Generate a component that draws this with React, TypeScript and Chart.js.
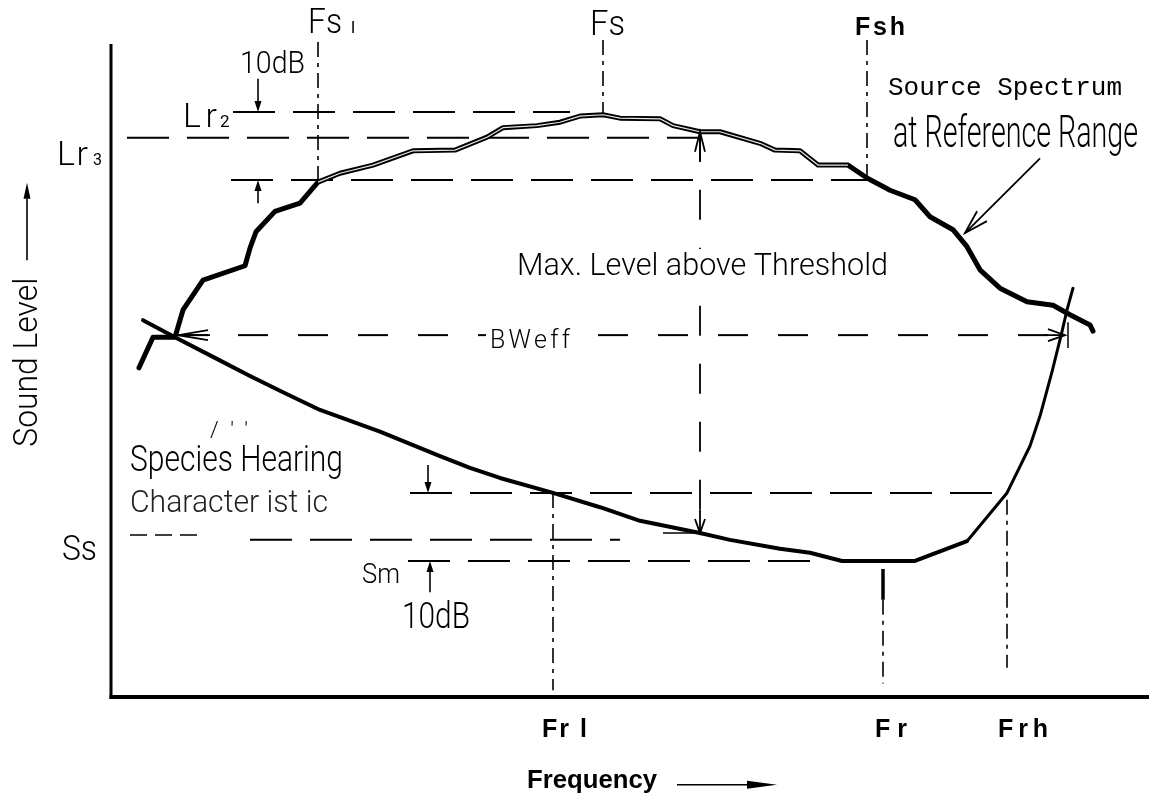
import React, { useEffect, useRef } from "react";
import { Chart, registerables } from "chart.js";

Chart.register(...registerables);

type Pt = { x: number; y: number };

// Frequency in arbitrary units along the bottom axis, sound level in dB.
const sourceSpectrum: Pt[] = [
  { x: 2.8, y: 48.4 }, { x: 4.2, y: 52.9 }, { x: 6.4, y: 52.9 }, { x: 7.2, y: 56.9 },
  { x: 9.2, y: 61.3 }, { x: 13.4, y: 63.4 }, { x: 13.9, y: 66.0 }, { x: 14.5, y: 68.4 },
  { x: 16.4, y: 71.4 }, { x: 18.9, y: 72.6 }, { x: 20.7, y: 75.7 }, { x: 22.9, y: 77.0 },
  { x: 26.2, y: 78.2 }, { x: 30.2, y: 80.3 }, { x: 34.4, y: 80.4 }, { x: 37.6, y: 82.3 },
  { x: 39.2, y: 83.7 }, { x: 42.6, y: 84.0 }, { x: 44.9, y: 84.5 }, { x: 46.9, y: 85.4 },
  { x: 49.2, y: 85.6 }, { x: 50.9, y: 85.1 }, { x: 54.9, y: 85.0 }, { x: 56.2, y: 84.0 },
  { x: 58.9, y: 83.1 }, { x: 60.9, y: 83.1 }, { x: 64.9, y: 81.4 }, { x: 66.4, y: 80.4 },
  { x: 68.9, y: 80.3 }, { x: 70.7, y: 78.2 }, { x: 73.7, y: 78.2 }, { x: 75.6, y: 76.3 },
  { x: 77.9, y: 74.5 }, { x: 80.4, y: 73.1 }, { x: 81.9, y: 70.6 }, { x: 84.2, y: 68.7 },
  { x: 85.6, y: 66.2 }, { x: 86.9, y: 62.8 }, { x: 88.9, y: 60.1 }, { x: 91.6, y: 58.1 },
  { x: 94.2, y: 57.6 }, { x: 95.9, y: 56.2 }, { x: 97.9, y: 54.7 }, { x: 98.2, y: 53.8 },
];

const hearingCurve: Pt[] = [
  { x: 3.2, y: 55.4 }, { x: 6.4, y: 52.9 }, { x: 10.2, y: 50.0 }, { x: 13.9, y: 47.2 },
  { x: 17.2, y: 44.8 }, { x: 20.9, y: 42.2 }, { x: 26.9, y: 39.0 }, { x: 32.9, y: 35.4 },
  { x: 35.9, y: 33.7 }, { x: 38.9, y: 32.2 }, { x: 44.2, y: 30.0 }, { x: 48.9, y: 27.9 },
  { x: 52.9, y: 25.9 }, { x: 58.9, y: 24.1 }, { x: 61.9, y: 23.1 }, { x: 66.9, y: 21.8 },
  { x: 69.9, y: 21.2 }, { x: 73.1, y: 20.0 }, { x: 80.4, y: 20.0 }, { x: 85.6, y: 22.9 },
  { x: 89.6, y: 30.0 }, { x: 91.9, y: 36.9 }, { x: 92.9, y: 41.3 }, { x: 94.1, y: 47.8 },
  { x: 95.1, y: 53.7 }, { x: 95.6, y: 56.9 }, { x: 96.2, y: 60.1 },
];

// Characteristic levels (dB)
const LR2 = 86;
const LR3 = 82.2;
const LR2_MINUS_10 = 76;
const BW_LEVEL = 53.2;
const SS = 23.1;
const SM = 20;
const SM_PLUS_10 = 30;

// Characteristic frequencies
const FSL = 20.7;
const FS = 49.2;
const FSH = 75.6;
const FRL = 44.2;
const FR = 77.2;
const FRH = 89.6;
const F_MAX = 58.9;

// Horizontal reference levels: [level, fromFreq, toFreq]
const levelLines: [number, number, number][] = [
  [LR2, 12.2, 45.9],
  [LR3, 1.6, F_MAX],
  [LR2_MINUS_10, 12.0, FSH],
  [SM_PLUS_10, 29.9, 88.6],
  [SS, 13.9, 50.9],
  [SM, 29.7, 70.2],
];
const bandwidthLine: [number, number, number] = [BW_LEVEL, 6.7, 95.4];
const ssLeadIn: [number, number, number] = [23.8, 1.9, 9.1];

// Vertical frequency markers: [freq, fromLevel, toLevel]
const freqMarkers: [number, number, number][] = [
  [FSL, 96.3, 75.7],
  [FS, 96.6, 85.6],
  [FSH, 96.6, 76.3],
  [FRL, 30.0, 1.0],
  [FR, 14.3, 2.0],
  [FRH, 29.0, 4.3],
];
const maxLevelSpan: [number, number, number] = [F_MAX, 83.1, 24.1];

const X_MAX = 103.8;
const Y_MAX = 96;

type Arrow = { from: [number, number]; to: [number, number]; head: "filled" | "open"; len: number; half: number; w: number };
const arrows: Arrow[] = [
  { from: [14.7, 90.9], to: [14.7, LR2], head: "filled", len: 11, half: 3.5, w: 1.6 },
  { from: [14.7, 72.6], to: [14.7, LR2_MINUS_10], head: "filled", len: 11, half: 3.5, w: 1.6 },
  { from: [F_MAX, 78.7], to: [F_MAX, 83.1], head: "open", len: 20, half: 5, w: 1.8 },
  { from: [F_MAX, 27.5], to: [F_MAX, 24.1], head: "open", len: 14, half: 5, w: 1.8 },
  { from: [9.9, BW_LEVEL], to: [6.7, BW_LEVEL], head: "open", len: 30, half: 5, w: 1.8 },
  { from: [93.3, BW_LEVEL], to: [95.4, BW_LEVEL], head: "open", len: 17, half: 6, w: 1.8 },
  { from: [31.7, 34.1], to: [31.7, SM_PLUS_10], head: "filled", len: 11, half: 3.5, w: 1.6 },
  { from: [31.9, 15.4], to: [31.9, SM], head: "filled", len: 11, half: 3.5, w: 1.6 },
  { from: [92.9, 79.2], to: [85.4, 68.2], head: "open", len: 24, half: 7, w: 1.8 },
  { from: [56.6, -12.9], to: [66.6, -12.9], head: "filled", len: 30, half: 4, w: 1.5 },
  { from: [-8.4, 64.2], to: [-8.4, 75.6], head: "filled", len: 16, half: 3.5, w: 1.6 },
];

type Label = {
  text: string; x: number; y: number; size: number; width?: number;
  family?: string; weight?: number | string; rotate?: number; bg?: boolean; color?: string;
};

const SANS = 'Roboto, "DejaVu Sans", sans-serif';
const BOLD = '"Liberation Sans", Arial, sans-serif';
const MONO = '"Liberation Mono", "Courier New", monospace';

const labels: Label[] = [
  { text: "Fs", x: 19.7, y: 97.6, size: 35, width: 34 },
  { text: "l", x: 24.0, y: 97.6, size: 17, weight: 400 },
  { text: "Fs", x: 47.9, y: 97.3, size: 35, width: 35 },
  { text: "Fsh", x: 74.4, y: 97.3, size: 25, width: 50, family: BOLD, weight: 700 },
  { text: "10dB", x: 12.9, y: 91.7, size: 32, width: 65 },
  { text: "Lr", x: 7.2, y: 83.8, size: 34, width: 34 },
  { text: "2", x: 10.9, y: 83.8, size: 17, width: 13, weight: 400 },
  { text: "Lr", x: -5.4, y: 78.2, size: 34, width: 31 },
  { text: "3", x: -1.8, y: 78.2, size: 17, width: 9, weight: 400 },
  { text: "Source Spectrum", x: 77.7, y: 88.5, size: 26, width: 234, family: MONO, weight: 400 },
  { text: "at Reference Range", x: 78.2, y: 80.9, size: 45, width: 245 },
  { text: "Max. Level above Threshold", x: 40.6, y: 62.0, size: 32, width: 371, bg: true },
  { text: "BWeff", x: 37.9, y: 51.3, size: 25, width: 80, bg: true },
  { text: "/''", x: 9.9, y: 38.2, size: 22, width: 38 },
  { text: "Species Hearing", x: 1.9, y: 33.2, size: 36, width: 213 },
  { text: "Character ist ic", x: 1.9, y: 27.2, size: 31, width: 198, color: "#222" },
  { text: "Ss", x: -4.9, y: 20.1, size: 35, width: 35 },
  { text: "Sm", x: 25.1, y: 16.8, size: 28, width: 38 },
  { text: "10dB", x: 29.1, y: 10.1, size: 36, width: 68 },
  { text: "Fr l", x: 43.1, y: -5.9, size: 25, width: 45, family: BOLD, weight: 700 },
  { text: "Fr", x: 76.4, y: -5.9, size: 25, width: 32, family: BOLD, weight: 700 },
  { text: "Frh", x: 88.7, y: -5.9, size: 25, width: 50, family: BOLD, weight: 700 },
  { text: "Frequency", x: 41.6, y: -13.4, size: 26, width: 130, family: BOLD, weight: 700 },
  { text: "Sound Level", x: -7.4, y: 36.8, size: 34, width: 169, rotate: -Math.PI / 2 },
];

const seg = (pts: Pt[], extra: Record<string, unknown> = {}) => ({
  type: "line" as const,
  data: pts,
  borderColor: "#000",
  borderWidth: 2,
  pointRadius: 0,
  fill: false,
  tension: 0,
  clip: false as const,
  order: 0,
  ...extra,
});

const hLine = ([y, x0, x1]: [number, number, number], extra: Record<string, unknown>) =>
  seg([{ x: x0, y }, { x: x1, y }], extra);
const vLine = ([x, y0, y1]: [number, number, number], extra: Record<string, unknown>) =>
  seg([{ x, y: y0 }, { x, y: y1 }], extra);

const drawingPlugin = {
  id: "diagramDecor",
  beforeDatasetsDraw(chart: Chart) {
    const { ctx } = chart;
    const xs = chart.scales.x;
    const ys = chart.scales.y;
    ctx.save();
    ctx.strokeStyle = "#000";
    ctx.lineCap = "butt";
    // frame axes
    ctx.lineWidth = 3;
    ctx.beginPath();
    ctx.moveTo(xs.getPixelForValue(0), ys.getPixelForValue(Y_MAX));
    ctx.lineTo(xs.getPixelForValue(0), ys.getPixelForValue(0) + 2);
    ctx.stroke();
    ctx.lineWidth = 4;
    ctx.beginPath();
    ctx.moveTo(xs.getPixelForValue(0) - 1.5, ys.getPixelForValue(0));
    ctx.lineTo(xs.getPixelForValue(X_MAX), ys.getPixelForValue(0));
    ctx.stroke();
    ctx.restore();
  },
  afterDatasetsDraw(chart: Chart) {
    const { ctx } = chart;
    const xs = chart.scales.x;
    const ys = chart.scales.y;
    const P = (v: [number, number]) => [xs.getPixelForValue(v[0]), ys.getPixelForValue(v[1])];

    // arrows
    for (const a of arrows) {
      const [x0, y0] = P(a.from);
      const [x1, y1] = P(a.to);
      const ang = Math.atan2(y1 - y0, x1 - x0);
      const ux = Math.cos(ang), uy = Math.sin(ang);
      const bx = x1 - ux * a.len, by = y1 - uy * a.len;
      const nx = -uy * a.half, ny = ux * a.half;
      ctx.save();
      ctx.strokeStyle = "#000";
      ctx.fillStyle = "#000";
      ctx.lineWidth = a.w;
      ctx.beginPath();
      ctx.moveTo(x0, y0);
      ctx.lineTo(a.head === "filled" ? bx : x1, a.head === "filled" ? by : y1);
      ctx.stroke();
      ctx.beginPath();
      if (a.head === "filled") {
        ctx.moveTo(x1, y1);
        ctx.lineTo(bx + nx, by + ny);
        ctx.lineTo(bx - nx, by - ny);
        ctx.closePath();
        ctx.fill();
      } else {
        ctx.moveTo(bx + nx, by + ny);
        ctx.lineTo(x1, y1);
        ctx.lineTo(bx - nx, by - ny);
        ctx.stroke();
      }
      ctx.restore();
    }

    // text
    for (const l of labels) {
      const px = xs.getPixelForValue(l.x);
      const py = ys.getPixelForValue(l.y);
      ctx.save();
      ctx.font = `${l.weight ?? 300} ${l.size}px ${l.family ?? SANS}`;
      (ctx as any).letterSpacing = "0px";
      const natural = ctx.measureText(l.text).width;
      let sx = 1;
      if (l.width) {
        if (natural > l.width) sx = l.width / natural;
        else if (l.text.length > 1) {
          (ctx as any).letterSpacing = `${(l.width - natural) / (l.text.length - 1)}px`;
        }
      }
      const w = l.width ?? natural;
      ctx.translate(px, py);
      if (l.rotate) ctx.rotate(l.rotate);
      if (l.bg) {
        ctx.fillStyle = "#fff";
        ctx.fillRect(-4, -l.size * 0.82, w + 8, l.size * 1.0);
      }
      ctx.scale(sx, 1);
      ctx.fillStyle = l.color ?? "#000";
      ctx.textAlign = "left";
      ctx.textBaseline = "alphabetic";
      ctx.fillText(l.text, 0, 0);
      ctx.restore();
    }
  },
};

export default function App() {
  const canvasRef = useRef<HTMLCanvasElement | null>(null);

  useEffect(() => {
    const canvas = canvasRef.current;
    if (!canvas) return;
    // the middle stretch of the source spectrum is drawn as a hollow (double) stroke
    const hollowPart = sourceSpectrum.filter((p) => p.x >= FSL && p.x <= 73.7);
    const refDash = [42, 18];
    const dashDot = [15, 6, 4, 6];

    const chart = new Chart(canvas, {
      type: "line",
      data: {
        datasets: [
          ...levelLines.map((l) => hLine(l, { borderDash: refDash, borderWidth: 2 })),
          hLine(ssLeadIn, { borderDash: [17, 8], borderWidth: 1.5 }),
          hLine(bandwidthLine, { borderDash: [30, 30], borderWidth: 2 }),
          ...freqMarkers.map((m) => vLine(m, { borderDash: dashDot, borderWidth: 1.6 })),
          vLine([FR, 18.8, 14.3], { borderWidth: 3.5 }),
          vLine(maxLevelSpan, { borderDash: [30, 28], borderWidth: 1.8 }),
          hLine([24.1, 55.2, F_MAX], { borderWidth: 1.6 }),
          vLine([95.7, 55.1, 51.3], { borderWidth: 1.5 }),
          seg(hearingCurve, {
            borderWidth: 4,
            borderJoinStyle: "round",
            borderCapStyle: "round",
            order: -1,
            segment: {
              borderWidth: (ctx: any) => (ctx.p0.parsed.x >= 85.6 ? 3 : 4),
            },
          }),
          seg(sourceSpectrum, { borderWidth: 5, borderJoinStyle: "round", borderCapStyle: "round", order: -2 }),
          seg(hollowPart, { borderColor: "#e6e6e6", borderWidth: 1.2, borderJoinStyle: "round", order: -3 }),
        ],
      },
      options: {
        responsive: false,
        animation: false,
        devicePixelRatio: 1,
        layout: { padding: { left: 111, right: 0, top: 44, bottom: 97 } },
        plugins: { legend: { display: false }, tooltip: { enabled: false } },
        scales: {
          x: { type: "linear", min: 0, max: X_MAX, display: false },
          y: { type: "linear", min: 0, max: Y_MAX, display: false },
        },
        elements: { point: { radius: 0 } },
      },
      plugins: [drawingPlugin],
    } as any);

    return () => chart.destroy();
  }, []);

  return (
    <div style={{ position: "absolute", left: 0, top: 0, width: 1149, height: 794, background: "#fff" }}>
      <canvas ref={canvasRef} width={1149} height={794} style={{ width: 1149, height: 794, display: "block" }} />
    </div>
  );
}
